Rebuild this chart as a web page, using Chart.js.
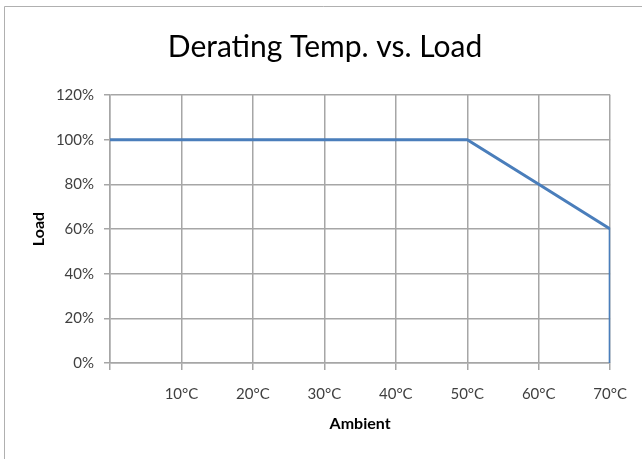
<!DOCTYPE html>
<html>
<head>
<meta charset="utf-8">
<script src="https://cdn.jsdelivr.net/npm/chart.js@4"></script>
<style>
  html, body { margin: 0; padding: 0; background: #fff; }
  #wrap { width: 642px; height: 459px; }
</style>
</head>
<body>
<div id="wrap"><canvas id="deratingChart" width="642" height="459"></canvas></div>
<script>
const temps = [0, 50, 60, 70, 70];
const loads = [100, 100, 80, 60, 0];
const xTicks = [0, 10, 20, 30, 40, 50, 60, 70];
const yTicks = [0, 20, 40, 60, 80, 100, 120];

const gridColor = "#a6a6a6";
const textColor = "#3f3f3f";
const fontFamily = "Lato, 'Open Sans', sans-serif";

const frame = {
  id: "frame",
  beforeDraw(chart) {
    const c = chart.ctx;
    c.save();
    c.fillStyle = "#fff";
    c.fillRect(0, 0, chart.width, chart.height);
    c.strokeStyle = "#b0b0b0";
    c.lineWidth = 1;
    c.beginPath();
    c.moveTo(4.5, chart.height);
    c.lineTo(4.5, 6.5);
    c.lineTo(chart.width, 6.5);
    c.stroke();
    c.restore();
  },
};

const ctx = document.getElementById("deratingChart");

new Chart(ctx, {
  type: "line",
  data: {
    datasets: [
      {
        label: "Load",
        data: temps.map((t, i) => ({ x: t, y: loads[i] })),
        borderColor: "#4a7ebb",
        borderWidth: 3,
        pointRadius: 0,
        tension: 0,
        fill: false,
      },
    ],
  },
  plugins: [frame],
  options: {
    responsive: false,
    animation: false,
    layout: { padding: { left: 20, right: 12, top: 0, bottom: 0 } },
    plugins: {
      legend: { display: false },
      tooltip: { enabled: false },
      title: {
        display: true,
        text: "Derating Temp. vs. Load",
        color: "#000",
        font: { family: fontFamily, size: 30, weight: "normal" },
        padding: { top: 29, bottom: 30 },
      },
    },
    scales: {
      x: {
        type: "linear",
        min: 0,
        max: 70,
        afterBuildTicks: (s) => { s.ticks = xTicks.map((v) => ({ value: v })); },
        afterFit: (s) => { s.height = 96; },
        ticks: {
          color: textColor,
          font: { family: fontFamily, size: 15 },
          padding: 15,
          maxRotation: 0,
          callback: (v) => (v === 0 ? "" : v + "°C"),
        },
        grid: { color: gridColor, lineWidth: 1.5, tickLength: 7 },
        border: { color: gridColor, width: 1.5 },
        title: {
          display: true,
          text: "Ambient",
          color: "#000",
          font: { family: fontFamily, size: 16, weight: "bold" },
          padding: { top: 4, bottom: 26 },
        },
      },
      y: {
        min: 0,
        max: 120,
        afterBuildTicks: (s) => { s.ticks = yTicks.map((v) => ({ value: v })); },
        afterFit: (s) => { s.width = 90; },
        ticks: {
          color: textColor,
          font: { family: fontFamily, size: 15 },
          padding: 10,
          callback: (v) => v + "%",
        },
        grid: { color: gridColor, lineWidth: 1.5, tickLength: 6 },
        border: { color: gridColor, width: 1.5 },
        title: {
          display: true,
          text: "Load",
          color: "#000",
          font: { family: fontFamily, size: 16, weight: "bold" },
          padding: { top: 9, bottom: 0 },
        },
      },
    },
  },
});
</script>
</body>
</html>
